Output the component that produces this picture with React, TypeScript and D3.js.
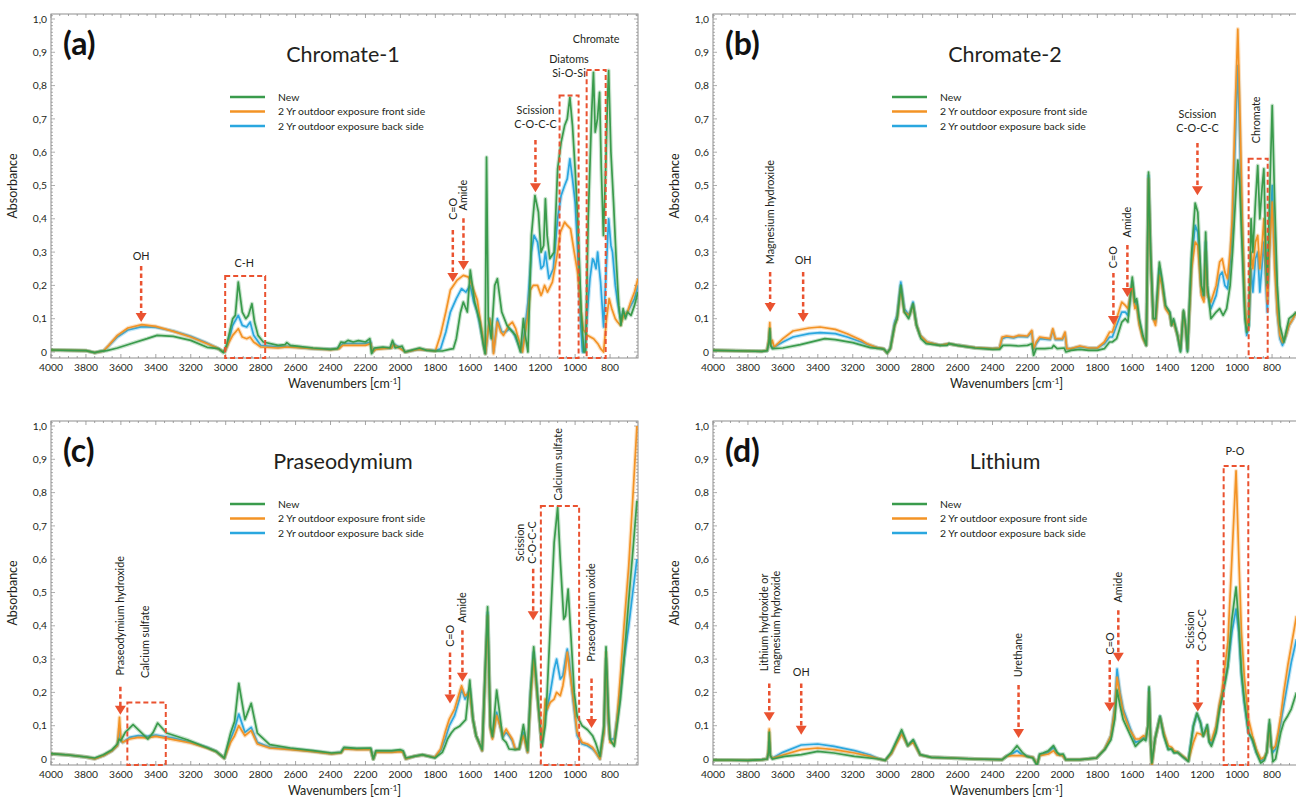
import * as d3 from 'd3'

type Pt = [number, number]

const xTicks = [4000, 3800, 3600, 3400, 3200, 3000, 2800, 2600, 2400, 2200, 2000, 1800, 1600, 1400, 1200, 1000, 800]
const yTicks = [0, 0.1, 0.2, 0.3, 0.4, 0.5, 0.6, 0.7, 0.8, 0.9, 1.0]
const seriesNames = ['New', '2 Yr outdoor exposure front side', '2 Yr outdoor exposure back side']
const seriesColors = ['#3a9b4c', '#f39325', '#2aa7df']

// ---- (a) Chromate-1 ----
const chromate1New: Pt[] = [
  [4000, 0.006], [3900, 0.005], [3800, 0.004], [3750, -0.002], [3720, 0.002], [3680, 0.004], [3620, 0.012], [3530, 0.027],
  [3450, 0.04], [3393, 0.05], [3300, 0.047], [3200, 0.035], [3106, 0.014], [3040, 0.01], [3014, -0.002], [2995, 0.02],
  [2960, 0.1], [2945, 0.11], [2928, 0.21], [2905, 0.12], [2885, 0.1], [2870, 0.11], [2850, 0.145], [2835, 0.09], [2815, 0.05],
  [2785, 0.03], [2700, 0.02], [2660, 0.022], [2650, 0.028], [2630, 0.02], [2500, 0.012], [2400, 0.008], [2360, 0.01],
  [2340, 0.03], [2320, 0.028], [2300, 0.035], [2270, 0.03], [2240, 0.034], [2200, 0.03], [2175, 0.04], [2165, -0.005],
  [2150, 0.012], [2100, 0.015], [2060, 0.012], [2045, 0.035], [2030, 0.012], [1990, 0.018], [1975, 0.0], [1940, 0.005],
  [1890, 0.012], [1850, 0.005], [1800, 0.003], [1760, 0.003], [1720, 0.008], [1697, 0.01], [1680, 0.04], [1657, 0.117],
  [1640, 0.15], [1617, 0.12], [1600, 0.246], [1575, 0.15], [1545, 0.09], [1525, 0.02], [1515, -0.005], [1507, 0.585],
  [1497, 0.1], [1480, 0.04], [1460, 0.2], [1445, 0.22], [1420, 0.12], [1390, 0.08], [1370, 0.067], [1341, 0.05], [1313, 0.0],
  [1296, 0.1], [1285, 0.05], [1270, 0.0], [1250, 0.35], [1230, 0.47], [1210, 0.42], [1195, 0.3], [1180, 0.32], [1170, 0.46],
  [1160, 0.35], [1145, 0.28], [1120, 0.3], [1100, 0.55], [1080, 0.63], [1060, 0.68], [1045, 0.7], [1030, 0.765], [1015, 0.68],
  [1000, 0.55], [985, 0.4], [965, 0.12], [950, 0.0], [940, 0.0], [925, 0.4], [905, 0.72], [895, 0.84], [885, 0.66], [872, 0.7],
  [860, 0.78], [850, 0.55], [838, 0.35], [825, 0.55], [815, 0.75], [808, 0.845], [795, 0.6], [780, 0.45], [765, 0.28],
  [750, 0.14], [738, 0.08], [725, 0.13], [712, 0.1], [700, 0.12], [680, 0.11], [660, 0.14], [640, 0.18],
]
const chromate1Front: Pt[] = [
  [4000, 0.006], [3800, 0.004], [3750, -0.002], [3700, 0.003], [3670, 0.02], [3620, 0.05], [3560, 0.072], [3480, 0.082],
  [3400, 0.077], [3300, 0.062], [3200, 0.045], [3120, 0.028], [3060, 0.015], [3020, 0.003], [3005, 0.0], [2985, 0.025],
  [2960, 0.05], [2928, 0.07], [2905, 0.045], [2880, 0.04], [2860, 0.045], [2840, 0.03], [2800, 0.015], [2700, 0.012],
  [2650, 0.015], [2500, 0.01], [2400, 0.007], [2350, 0.01], [2330, 0.02], [2200, 0.02], [2170, 0.025], [2160, 0.0],
  [2140, 0.008], [2050, 0.012], [2040, 0.022], [2000, 0.01], [1970, 0.0], [1900, 0.008], [1830, 0.005], [1800, 0.003],
  [1771, 0.05], [1740, 0.12], [1714, 0.186], [1675, 0.216], [1640, 0.23], [1610, 0.225], [1590, 0.2], [1560, 0.156],
  [1530, 0.05], [1513, -0.005], [1490, 0.1], [1475, 0.07], [1467, -0.005], [1445, 0.09], [1425, 0.06], [1410, 0.05],
  [1380, 0.08], [1359, 0.09], [1340, 0.07], [1330, 0.05], [1301, 0.0], [1285, 0.06], [1273, 0.1], [1256, 0.186], [1240, 0.2],
  [1215, 0.2], [1195, 0.17], [1187, 0.18], [1175, 0.2], [1158, 0.18], [1130, 0.21], [1100, 0.3], [1084, 0.36], [1060, 0.39],
  [1045, 0.38], [1026, 0.37], [1005, 0.3], [986, 0.24], [965, 0.12], [952, 0.066], [930, 0.05], [894, 0.04], [870, 0.025],
  [854, 0.01], [837, 0.0], [820, 0.1], [805, 0.16], [790, 0.13], [770, 0.1], [757, 0.09], [740, 0.08], [722, 0.11],
  [700, 0.12], [682, 0.15], [660, 0.18], [640, 0.22],
]
const chromate1Back: Pt[] = [
  [4000, 0.006], [3800, 0.004], [3750, -0.002], [3700, 0.003], [3670, 0.018], [3620, 0.045], [3560, 0.066], [3480, 0.076],
  [3400, 0.074], [3300, 0.063], [3200, 0.047], [3120, 0.03], [3060, 0.015], [3020, 0.003], [3005, 0.0], [2985, 0.03],
  [2960, 0.08], [2928, 0.11], [2905, 0.08], [2880, 0.075], [2860, 0.09], [2840, 0.05], [2800, 0.02], [2700, 0.015],
  [2650, 0.017], [2500, 0.01], [2400, 0.008], [2350, 0.012], [2330, 0.025], [2200, 0.025], [2170, 0.03], [2160, 0.0],
  [2140, 0.01], [2050, 0.013], [2040, 0.025], [2000, 0.012], [1970, 0.0], [1900, 0.008], [1800, 0.004], [1770, 0.01],
  [1740, 0.06], [1714, 0.12], [1680, 0.16], [1650, 0.19], [1625, 0.18], [1600, 0.2], [1580, 0.15], [1560, 0.12], [1530, 0.04],
  [1513, -0.005], [1490, 0.1], [1475, 0.06], [1467, 0.0], [1445, 0.1], [1420, 0.06], [1400, 0.06], [1375, 0.07], [1355, 0.06],
  [1330, 0.03], [1305, 0.0], [1285, 0.08], [1270, 0.15], [1250, 0.3], [1235, 0.35], [1215, 0.33], [1195, 0.25], [1180, 0.26],
  [1170, 0.3], [1150, 0.22], [1125, 0.25], [1100, 0.4], [1080, 0.47], [1060, 0.5], [1045, 0.52], [1030, 0.58], [1015, 0.52],
  [1000, 0.45], [985, 0.3], [970, 0.1], [958, 0.0], [945, 0.0], [930, 0.12], [915, 0.22], [900, 0.28], [894, 0.276],
  [880, 0.25], [871, 0.3], [860, 0.24], [854, 0.21], [837, 0.075], [822, 0.25], [808, 0.4], [795, 0.32], [786, 0.3],
  [770, 0.2], [757, 0.15], [740, 0.1], [725, 0.12], [711, 0.11], [690, 0.13], [660, 0.16], [640, 0.2],
]

// ---- (b) Chromate-2 ----
const chromate2New: Pt[] = [
  [4000, 0.005], [3800, 0.003], [3720, 0.002], [3690, 0.004], [3680, 0.03], [3675, 0.07], [3670, 0.02], [3660, 0.01],
  [3600, 0.012], [3500, 0.022], [3400, 0.035], [3360, 0.04], [3300, 0.037], [3200, 0.028], [3100, 0.013], [3040, 0.01],
  [3020, 0.008], [3003, -0.003], [2985, 0.01], [2960, 0.08], [2946, 0.1], [2925, 0.2], [2905, 0.12], [2880, 0.1],
  [2855, 0.145], [2835, 0.08], [2810, 0.04], [2780, 0.025], [2700, 0.02], [2660, 0.02], [2650, 0.025], [2600, 0.02],
  [2500, 0.012], [2400, 0.008], [2360, 0.008], [2340, 0.02], [2300, 0.02], [2250, 0.018], [2200, 0.02], [2175, 0.025],
  [2165, -0.01], [2150, 0.01], [2100, 0.01], [2060, 0.012], [2050, 0.02], [2030, 0.01], [1990, 0.012], [1980, 0.0],
  [1950, 0.005], [1900, 0.008], [1850, 0.005], [1800, 0.005], [1760, 0.01], [1730, 0.03], [1714, 0.03], [1690, 0.04],
  [1660, 0.09], [1640, 0.1], [1625, 0.09], [1600, 0.225], [1585, 0.15], [1575, 0.16], [1560, 0.1], [1540, 0.05],
  [1520, 0.02], [1507, 0.54], [1495, 0.3], [1480, 0.1], [1467, 0.1], [1445, 0.27], [1430, 0.22], [1410, 0.14], [1385, 0.12],
  [1375, 0.08], [1364, 0.1], [1341, 0.05], [1324, 0.0], [1307, 0.126], [1295, 0.08], [1284, 0.0], [1260, 0.3], [1240, 0.447],
  [1225, 0.42], [1205, 0.2], [1190, 0.17], [1180, 0.36], [1170, 0.2], [1150, 0.1], [1120, 0.12], [1100, 0.13], [1080, 0.11],
  [1060, 0.13], [1040, 0.2], [1026, 0.3], [1010, 0.45], [996, 0.576], [985, 0.5], [970, 0.3], [955, 0.1], [945, 0.06],
  [933, 0.08], [920, 0.4], [910, 0.3], [895, 0.45], [882, 0.56], [870, 0.4], [856, 0.5], [847, 0.55], [835, 0.3], [827, 0.2],
  [815, 0.45], [799, 0.74], [785, 0.45], [770, 0.2], [755, 0.08], [732, 0.03], [720, 0.06], [703, 0.1], [680, 0.11], [660, 0.12],
]
const chromate2Front: Pt[] = [
  [4000, 0.005], [3800, 0.003], [3720, 0.002], [3690, 0.005], [3680, 0.04], [3675, 0.088], [3670, 0.02], [3660, 0.035],
  [3650, 0.015], [3600, 0.04], [3542, 0.063], [3450, 0.072], [3387, 0.075], [3300, 0.068], [3232, 0.055], [3150, 0.035],
  [3118, 0.025], [3060, 0.013], [3026, 0.01], [3003, -0.003], [2985, 0.01], [2960, 0.08], [2946, 0.1], [2925, 0.19],
  [2905, 0.12], [2877, 0.11], [2855, 0.14], [2835, 0.08], [2814, 0.05], [2774, 0.03], [2700, 0.02], [2650, 0.025],
  [2600, 0.02], [2500, 0.013], [2400, 0.01], [2360, 0.012], [2345, 0.045], [2320, 0.048], [2280, 0.045], [2250, 0.05],
  [2200, 0.048], [2175, 0.065], [2165, 0.01], [2150, 0.03], [2130, 0.045], [2070, 0.04], [2055, 0.07], [2040, 0.04],
  [2000, 0.04], [1985, 0.06], [1975, 0.01], [1950, 0.01], [1900, 0.018], [1850, 0.012], [1800, 0.012], [1760, 0.03],
  [1730, 0.06], [1714, 0.06], [1690, 0.1], [1660, 0.15], [1640, 0.14], [1625, 0.13], [1600, 0.2], [1585, 0.13], [1575, 0.14],
  [1560, 0.08], [1540, 0.04], [1520, 0.02], [1507, 0.52], [1495, 0.28], [1480, 0.1], [1467, 0.08], [1445, 0.23], [1430, 0.2],
  [1410, 0.13], [1385, 0.11], [1375, 0.08], [1364, 0.09], [1341, 0.05], [1324, 0.01], [1307, 0.12], [1295, 0.07], [1284, 0.01],
  [1260, 0.25], [1240, 0.33], [1225, 0.32], [1205, 0.17], [1190, 0.15], [1180, 0.3], [1170, 0.17], [1150, 0.15], [1120, 0.2],
  [1100, 0.27], [1085, 0.28], [1070, 0.24], [1055, 0.22], [1040, 0.3], [1028, 0.4], [1010, 0.75], [996, 0.97], [985, 0.75],
  [970, 0.4], [955, 0.15], [945, 0.08], [933, 0.1], [920, 0.3], [910, 0.25], [895, 0.33], [882, 0.35], [870, 0.25],
  [856, 0.33], [847, 0.4], [835, 0.25], [827, 0.15], [815, 0.3], [799, 0.45], [785, 0.25], [770, 0.12], [755, 0.05],
  [740, 0.03], [720, 0.05], [703, 0.08], [680, 0.1], [660, 0.12],
]
const chromate2Back: Pt[] = [
  [4000, 0.005], [3800, 0.003], [3720, 0.002], [3690, 0.004], [3680, 0.03], [3675, 0.06], [3670, 0.02], [3660, 0.012],
  [3600, 0.03], [3542, 0.045], [3450, 0.055], [3387, 0.058], [3300, 0.055], [3232, 0.045], [3150, 0.03], [3100, 0.02],
  [3060, 0.013], [3026, 0.01], [3003, -0.003], [2985, 0.012], [2960, 0.09], [2946, 0.11], [2925, 0.21], [2905, 0.13],
  [2877, 0.11], [2855, 0.15], [2835, 0.08], [2814, 0.05], [2774, 0.03], [2700, 0.02], [2650, 0.025], [2600, 0.02],
  [2500, 0.013], [2400, 0.01], [2360, 0.012], [2345, 0.04], [2320, 0.045], [2280, 0.042], [2250, 0.047], [2200, 0.045],
  [2175, 0.06], [2165, 0.008], [2150, 0.025], [2130, 0.04], [2070, 0.037], [2055, 0.065], [2040, 0.037], [2000, 0.037],
  [1985, 0.055], [1975, 0.01], [1950, 0.01], [1900, 0.016], [1850, 0.012], [1800, 0.012], [1760, 0.025], [1730, 0.045],
  [1714, 0.045], [1690, 0.08], [1660, 0.12], [1640, 0.12], [1625, 0.11], [1600, 0.21], [1585, 0.14], [1575, 0.15],
  [1560, 0.09], [1540, 0.045], [1520, 0.02], [1507, 0.53], [1495, 0.29], [1480, 0.1], [1467, 0.09], [1445, 0.25],
  [1430, 0.21], [1410, 0.135], [1385, 0.115], [1375, 0.08], [1364, 0.095], [1341, 0.05], [1324, 0.005], [1307, 0.12],
  [1295, 0.075], [1284, 0.005], [1260, 0.28], [1240, 0.38], [1225, 0.36], [1205, 0.18], [1190, 0.16], [1180, 0.33],
  [1170, 0.18], [1150, 0.13], [1120, 0.17], [1100, 0.23], [1085, 0.24], [1070, 0.2], [1055, 0.19], [1040, 0.27], [1028, 0.36],
  [1010, 0.65], [996, 0.86], [985, 0.65], [970, 0.35], [955, 0.12], [945, 0.05], [933, 0.08], [920, 0.25], [910, 0.18],
  [895, 0.28], [882, 0.3], [870, 0.18], [856, 0.27], [847, 0.33], [835, 0.2], [827, 0.12], [815, 0.3], [799, 0.5], [785, 0.3],
  [770, 0.12], [755, 0.04], [740, 0.02], [720, 0.05], [703, 0.08], [680, 0.1], [660, 0.12],
]

// ---- (c) Praseodymium ----
const praseoNew: Pt[] = [
  [4000, 0.016], [3900, 0.012], [3800, 0.006], [3750, 0.003], [3700, 0.013], [3650, 0.028], [3620, 0.045], [3610, 0.06],
  [3600, 0.055], [3575, 0.08], [3530, 0.103], [3480, 0.078], [3445, 0.06], [3415, 0.08], [3390, 0.108], [3339, 0.078],
  [3220, 0.058], [3102, 0.033], [3055, 0.023], [3008, 0.003], [2972, 0.078], [2949, 0.113], [2925, 0.227], [2890, 0.118],
  [2854, 0.167], [2819, 0.078], [2748, 0.043], [2630, 0.033], [2500, 0.025], [2394, 0.018], [2340, 0.02], [2323, 0.035],
  [2250, 0.032], [2170, 0.033], [2155, 0.0], [2140, 0.025], [2050, 0.025], [2000, 0.028], [1985, 0.025], [1969, 0.003],
  [1922, 0.008], [1874, 0.013], [1803, 0.003], [1760, 0.02], [1744, 0.04], [1730, 0.06], [1709, 0.078], [1690, 0.09],
  [1662, 0.098], [1626, 0.118], [1603, 0.237], [1585, 0.12], [1567, 0.07], [1532, 0.028], [1501, 0.457], [1485, 0.1],
  [1473, 0.068], [1449, 0.207], [1430, 0.13], [1414, 0.06], [1395, 0.05], [1378, 0.03], [1343, 0.028], [1320, 0.03],
  [1296, 0.103], [1272, 0.025], [1255, 0.2], [1237, 0.337], [1213, 0.177], [1190, 0.038], [1171, 0.1], [1160, 0.2],
  [1142, 0.4], [1120, 0.65], [1100, 0.755], [1085, 0.6], [1065, 0.42], [1055, 0.43], [1040, 0.51], [1024, 0.37], [1005, 0.2],
  [988, 0.128], [960, 0.1], [929, 0.088], [900, 0.07], [882, 0.048], [858, 0.008], [835, 0.1], [823, 0.337], [810, 0.15],
  [800, 0.06], [776, 0.038], [760, 0.1], [741, 0.177], [720, 0.3], [693, 0.477], [670, 0.62], [646, 0.776],
]
const praseoFront: Pt[] = [
  [4000, 0.016], [3900, 0.012], [3800, 0.006], [3750, 0.0], [3700, 0.01], [3650, 0.025], [3620, 0.04], [3608, 0.125],
  [3600, 0.06], [3590, 0.05], [3550, 0.06], [3500, 0.065], [3450, 0.063], [3400, 0.068], [3300, 0.058], [3200, 0.048],
  [3102, 0.032], [3055, 0.022], [3008, 0.002], [2972, 0.05], [2949, 0.07], [2925, 0.1], [2890, 0.07], [2854, 0.085],
  [2819, 0.045], [2748, 0.033], [2630, 0.028], [2500, 0.022], [2394, 0.015], [2340, 0.018], [2323, 0.03], [2250, 0.028],
  [2170, 0.028], [2155, 0.0], [2140, 0.02], [2050, 0.02], [2000, 0.022], [1985, 0.02], [1969, 0.0], [1922, 0.008],
  [1874, 0.012], [1803, 0.005], [1770, 0.03], [1744, 0.08], [1720, 0.12], [1690, 0.15], [1662, 0.2], [1650, 0.22],
  [1630, 0.19], [1603, 0.2], [1585, 0.12], [1567, 0.07], [1532, 0.025], [1501, 0.43], [1485, 0.09], [1473, 0.06],
  [1449, 0.13], [1430, 0.1], [1414, 0.07], [1395, 0.09], [1378, 0.075], [1360, 0.06], [1343, 0.03], [1320, 0.03],
  [1296, 0.07], [1272, 0.02], [1255, 0.18], [1237, 0.3], [1213, 0.17], [1190, 0.04], [1171, 0.18], [1160, 0.15],
  [1142, 0.17], [1120, 0.18], [1106, 0.2], [1085, 0.19], [1070, 0.22], [1055, 0.27], [1045, 0.32], [1035, 0.28],
  [1010, 0.18], [988, 0.08], [960, 0.05], [929, 0.045], [900, 0.035], [882, 0.02], [858, 0.0], [835, 0.08], [823, 0.32],
  [810, 0.12], [800, 0.05], [776, 0.045], [760, 0.12], [741, 0.25], [720, 0.4], [693, 0.58], [670, 0.78], [646, 1.0],
]
const praseoBack: Pt[] = [
  [4000, 0.016], [3900, 0.012], [3800, 0.006], [3750, 0.0], [3700, 0.01], [3650, 0.025], [3620, 0.04], [3608, 0.09],
  [3600, 0.055], [3590, 0.05], [3550, 0.065], [3500, 0.07], [3450, 0.068], [3400, 0.072], [3300, 0.063], [3200, 0.05],
  [3102, 0.034], [3055, 0.023], [3008, 0.002], [2972, 0.06], [2949, 0.09], [2925, 0.135], [2890, 0.08], [2854, 0.095],
  [2819, 0.05], [2748, 0.035], [2630, 0.03], [2500, 0.023], [2394, 0.016], [2340, 0.02], [2323, 0.032], [2250, 0.03],
  [2170, 0.03], [2155, 0.0], [2140, 0.022], [2050, 0.022], [2000, 0.024], [1985, 0.022], [1969, 0.0], [1922, 0.008],
  [1874, 0.012], [1803, 0.005], [1770, 0.025], [1744, 0.06], [1720, 0.1], [1690, 0.13], [1662, 0.18], [1650, 0.21],
  [1630, 0.18], [1603, 0.21], [1585, 0.12], [1567, 0.07], [1532, 0.025], [1501, 0.44], [1485, 0.095], [1473, 0.065],
  [1449, 0.14], [1430, 0.1], [1414, 0.065], [1395, 0.08], [1378, 0.07], [1360, 0.055], [1343, 0.03], [1320, 0.03],
  [1296, 0.08], [1272, 0.02], [1255, 0.2], [1237, 0.32], [1213, 0.17], [1190, 0.04], [1171, 0.13], [1160, 0.15],
  [1142, 0.2], [1120, 0.27], [1106, 0.3], [1085, 0.24], [1070, 0.25], [1055, 0.3], [1045, 0.33], [1035, 0.3], [1010, 0.17],
  [988, 0.07], [960, 0.045], [929, 0.04], [900, 0.03], [882, 0.02], [858, 0.0], [835, 0.08], [823, 0.3], [810, 0.11],
  [800, 0.06], [776, 0.06], [760, 0.12], [741, 0.2], [720, 0.3], [693, 0.4], [670, 0.5], [646, 0.6],
]

// ---- (d) Lithium ----
const lithiumNew: Pt[] = [
  [4000, -0.003], [3900, -0.003], [3800, -0.004], [3720, -0.002], [3690, 0.0], [3682, 0.02], [3678, 0.08], [3672, 0.01],
  [3660, 0.0], [3589, 0.008], [3495, 0.013], [3401, 0.023], [3307, 0.018], [3190, 0.008], [3049, 0.0], [3014, -0.004],
  [2980, 0.02], [2955, 0.048], [2920, 0.088], [2885, 0.04], [2854, 0.058], [2814, 0.013], [2750, 0.005], [2638, 0.003],
  [2500, 0.0], [2345, -0.002], [2321, 0.008], [2290, 0.02], [2260, 0.04], [2230, 0.02], [2204, 0.008], [2169, 0.003],
  [2145, -0.02], [2130, 0.015], [2110, 0.018], [2080, 0.025], [2051, 0.04], [2030, 0.02], [2016, 0.013], [1995, 0.015],
  [1981, -0.002], [1899, -0.002], [1805, 0.003], [1758, 0.028], [1722, 0.058], [1700, 0.12], [1687, 0.207], [1670, 0.16],
  [1652, 0.118], [1617, 0.078], [1582, 0.038], [1560, 0.05], [1535, 0.06], [1523, 0.055], [1510, 0.1], [1504, 0.217],
  [1495, 0.05], [1488, -0.012], [1470, 0.06], [1441, 0.128], [1420, 0.07], [1394, 0.028], [1375, 0.03], [1361, 0.018],
  [1340, 0.02], [1314, 0.008], [1279, -0.007], [1250, 0.1], [1230, 0.138], [1210, 0.11], [1194, 0.068], [1171, 0.103],
  [1160, 0.05], [1147, 0.038], [1120, 0.08], [1100, 0.15], [1088, 0.177], [1065, 0.24], [1053, 0.277], [1030, 0.42],
  [1006, 0.516], [990, 0.4], [975, 0.26], [959, 0.177], [935, 0.08], [912, 0.058], [890, 0.02], [865, -0.012], [845, -0.005],
  [830, 0.02], [815, 0.118], [806, 0.05], [795, -0.008], [780, 0.0], [765, 0.04], [750, 0.08], [733, 0.11], [710, 0.13],
  [690, 0.15], [660, 0.2],
]
const lithiumFront: Pt[] = [
  [4000, -0.003], [3800, -0.004], [3720, -0.002], [3690, 0.0], [3682, 0.03], [3678, 0.09], [3672, 0.01], [3660, 0.002],
  [3600, 0.012], [3495, 0.028], [3401, 0.033], [3307, 0.028], [3190, 0.018], [3100, 0.008], [3049, 0.0], [3014, -0.004],
  [2980, 0.015], [2955, 0.04], [2920, 0.075], [2885, 0.04], [2854, 0.05], [2814, 0.012], [2750, 0.005], [2638, 0.003],
  [2500, 0.0], [2345, -0.002], [2321, 0.008], [2290, 0.01], [2230, 0.01], [2169, 0.005], [2145, -0.015], [2130, 0.01],
  [2080, 0.015], [2051, 0.025], [2030, 0.012], [2000, 0.01], [1981, -0.002], [1899, -0.002], [1805, 0.003], [1758, 0.03],
  [1722, 0.07], [1700, 0.15], [1687, 0.245], [1670, 0.19], [1652, 0.14], [1617, 0.09], [1582, 0.06], [1560, 0.06],
  [1535, 0.07], [1523, 0.065], [1510, 0.1], [1504, 0.2], [1495, 0.05], [1488, -0.02], [1470, 0.06], [1441, 0.125],
  [1420, 0.08], [1394, 0.04], [1375, 0.035], [1361, 0.025], [1340, 0.02], [1314, 0.01], [1279, -0.005], [1250, 0.05],
  [1230, 0.078], [1210, 0.075], [1194, 0.07], [1171, 0.09], [1160, 0.06], [1147, 0.055], [1120, 0.1], [1100, 0.17],
  [1088, 0.2], [1065, 0.3], [1053, 0.35], [1030, 0.6], [1006, 0.865], [990, 0.6], [975, 0.38], [959, 0.25], [935, 0.12],
  [912, 0.07], [890, 0.03], [865, 0.0], [845, 0.005], [830, 0.02], [815, 0.1], [806, 0.04], [795, 0.03], [780, 0.04],
  [765, 0.08], [750, 0.13], [733, 0.2], [710, 0.28], [690, 0.34], [660, 0.43],
]
const lithiumBack: Pt[] = [
  [4000, -0.003], [3800, -0.004], [3720, -0.002], [3690, 0.0], [3682, 0.02], [3678, 0.05], [3672, 0.01], [3660, 0.002],
  [3600, 0.02], [3495, 0.042], [3401, 0.045], [3307, 0.038], [3190, 0.025], [3100, 0.012], [3049, 0.0], [3014, -0.004],
  [2980, 0.015], [2955, 0.045], [2920, 0.08], [2885, 0.04], [2854, 0.055], [2814, 0.012], [2750, 0.005], [2638, 0.003],
  [2500, 0.0], [2345, -0.002], [2321, 0.008], [2290, 0.015], [2260, 0.025], [2230, 0.012], [2169, 0.005], [2145, -0.015],
  [2130, 0.012], [2080, 0.02], [2051, 0.035], [2030, 0.015], [2000, 0.012], [1981, -0.002], [1899, -0.002], [1805, 0.003],
  [1758, 0.03], [1722, 0.07], [1700, 0.16], [1687, 0.27], [1670, 0.2], [1652, 0.15], [1617, 0.1], [1582, 0.05],
  [1560, 0.055], [1535, 0.065], [1523, 0.06], [1510, 0.1], [1504, 0.21], [1495, 0.05], [1488, -0.01], [1470, 0.06],
  [1441, 0.128], [1420, 0.075], [1394, 0.03], [1375, 0.03], [1361, 0.02], [1340, 0.02], [1314, 0.008], [1279, -0.006],
  [1250, 0.1], [1230, 0.135], [1210, 0.11], [1194, 0.07], [1171, 0.1], [1160, 0.055], [1147, 0.045], [1120, 0.09],
  [1100, 0.16], [1088, 0.19], [1065, 0.25], [1053, 0.28], [1030, 0.38], [1006, 0.45], [990, 0.38], [975, 0.25],
  [959, 0.17], [935, 0.08], [912, 0.055], [890, 0.02], [865, -0.005], [845, 0.0], [830, 0.02], [815, 0.105], [806, 0.04],
  [795, 0.02], [780, 0.03], [765, 0.07], [750, 0.11], [733, 0.16], [710, 0.23], [690, 0.29], [660, 0.36],
]

type Note =
  | { kind: 'text'; wn: number; v: number; lines: string[]; rotate?: boolean }
  | { kind: 'arrow'; wn: number; from: number; to: number }
  | { kind: 'box'; from: number; to: number; top: number }

const panels = [
  {
    letter: '(a)', title: 'Chromate-1', px: 51, py: 14,
    series: [chromate1New, chromate1Front, chromate1Back],
    notes: [
      { kind: 'text', wn: 3484, v: 0.288, lines: ['OH'] },
      { kind: 'arrow', wn: 3484, from: 0.258, to: 0.09 },
      { kind: 'text', wn: 2894, v: 0.267, lines: ['C-H'] },
      { kind: 'box', from: 3003, to: 2774, top: 0.228 },
      { kind: 'text', wn: 1700, v: 0.43, lines: ['C=O'], rotate: true },
      { kind: 'arrow', wn: 1700, from: 0.366, to: 0.21 },
      { kind: 'text', wn: 1639, v: 0.471, lines: ['Amide'], rotate: true },
      { kind: 'arrow', wn: 1639, from: 0.402, to: 0.246 },
      { kind: 'text', wn: 1227, v: 0.704, lines: ['Scission', 'C-O-C-C'] },
      { kind: 'arrow', wn: 1227, from: 0.637, to: 0.48 },
      { kind: 'text', wn: 1035, v: 0.857, lines: ['Diatoms', 'Si-O-Si'] },
      { kind: 'box', from: 1089, to: 980, top: 0.77 },
      { kind: 'text', wn: 880, v: 0.94, lines: ['Chromate'] },
      { kind: 'box', from: 934, to: 825, top: 0.847 },
    ] as Note[],
  },
  {
    letter: '(b)', title: 'Chromate-2', px: 713, py: 14,
    series: [chromate2New, chromate2Front, chromate2Back],
    notes: [
      { kind: 'text', wn: 3673, v: 0.42, lines: ['Magnesium hydroxide'], rotate: true },
      { kind: 'arrow', wn: 3673, from: 0.24, to: 0.12 },
      { kind: 'text', wn: 3484, v: 0.276, lines: ['OH'] },
      { kind: 'arrow', wn: 3484, from: 0.24, to: 0.09 },
      { kind: 'text', wn: 1708, v: 0.285, lines: ['C=O'], rotate: true },
      { kind: 'arrow', wn: 1708, from: 0.237, to: 0.081 },
      { kind: 'text', wn: 1628, v: 0.39, lines: ['Amide'], rotate: true },
      { kind: 'arrow', wn: 1628, from: 0.321, to: 0.165 },
      { kind: 'text', wn: 1227, v: 0.693, lines: ['Scission', 'C-O-C-C'] },
      { kind: 'arrow', wn: 1227, from: 0.628, to: 0.471 },
      { kind: 'text', wn: 892, v: 0.697, lines: ['Chromate'], rotate: true },
      { kind: 'box', from: 934, to: 825, top: 0.58 },
    ] as Note[],
  },
  {
    letter: '(c)', title: 'Praseodymium', px: 51, py: 421,
    series: [praseoNew, praseoFront, praseoBack],
    notes: [
      { kind: 'text', wn: 3603, v: 0.43, lines: ['Praseodymium  hydroxide'], rotate: true },
      { kind: 'arrow', wn: 3603, from: 0.217, to: 0.133 },
      { kind: 'text', wn: 3461, v: 0.352, lines: ['Calcium sulfate'], rotate: true },
      { kind: 'box', from: 3563, to: 3343, top: 0.17 },
      { kind: 'text', wn: 1716, v: 0.37, lines: ['C=O'], rotate: true },
      { kind: 'arrow', wn: 1716, from: 0.32, to: 0.167 },
      { kind: 'text', wn: 1645, v: 0.455, lines: ['Amide'], rotate: true },
      { kind: 'arrow', wn: 1645, from: 0.387, to: 0.232 },
      { kind: 'text', wn: 1277, v: 0.65, lines: ['Scission', 'C-O-C-C'], rotate: true },
      { kind: 'arrow', wn: 1240, from: 0.571, to: 0.417 },
      { kind: 'text', wn: 1099, v: 0.885, lines: ['Calcium sulfate'], rotate: true },
      { kind: 'box', from: 1196, to: 977, top: 0.76 },
      { kind: 'text', wn: 906, v: 0.44, lines: ['Praseodymium oxide'], rotate: true },
      { kind: 'arrow', wn: 906, from: 0.242, to: 0.093 },
    ] as Note[],
  },
  {
    letter: '(d)', title: 'Lithium', px: 713, py: 421,
    series: [lithiumNew, lithiumFront, lithiumBack],
    notes: [
      { kind: 'text', wn: 3671, v: 0.41, lines: ['Lithium hydroxide or', 'magnesium hydroxide'], rotate: true },
      { kind: 'arrow', wn: 3678, from: 0.227, to: 0.113 },
      { kind: 'text', wn: 3495, v: 0.262, lines: ['OH'] },
      { kind: 'arrow', wn: 3495, from: 0.227, to: 0.073 },
      { kind: 'text', wn: 2251, v: 0.312, lines: ['Urethane'], rotate: true },
      { kind: 'arrow', wn: 2251, from: 0.222, to: 0.063 },
      { kind: 'text', wn: 1729, v: 0.347, lines: ['C=O'], rotate: true },
      { kind: 'arrow', wn: 1729, from: 0.297, to: 0.143 },
      { kind: 'text', wn: 1680, v: 0.516, lines: ['Amide'], rotate: true },
      { kind: 'arrow', wn: 1680, from: 0.447, to: 0.292 },
      { kind: 'text', wn: 1234, v: 0.387, lines: ['Scission', 'C-O-C-C'], rotate: true },
      { kind: 'arrow', wn: 1225, from: 0.297, to: 0.143 },
      { kind: 'text', wn: 1013, v: 0.925, lines: ['P-O'] },
      { kind: 'box', from: 1077, to: 936, top: 0.88 },
    ] as Note[],
  },
]

const W = 587
const H = 344
const FONT = "Lato, 'Open Sans', sans-serif"
const RED = '#ea5230'
const INK = '#231f20'

const fmt = (d: number) => (d === 0 ? '0' : d.toFixed(1).replace('.', ','))

function Panel({ p, idx }: { p: (typeof panels)[number]; idx: number }) {
  const x = d3.scaleLinear().domain([4000, 640]).range([0, W])
  const y = d3.scaleLinear().domain([0, 1]).range([338, 5])
  const line = d3.line<Pt>().x(d => x(d[0])).y(d => y(d[1]))
  const minorX = d3.range(4000, 640, -50)
  const minorY = d3.range(-1, 102).map(i => i / 100)
  const clipId = `clip-${idx}`
  const order = [2, 1, 0]

  return (
    <g transform={`translate(${p.px},${p.py})`}>
      <defs>
        <clipPath id={clipId}>
          <rect x={0} y={0} width={W} height={H} />
        </clipPath>
      </defs>
      {/* frame + inward ticks */}
      <rect x={0} y={0} width={W} height={H} fill="none" stroke="#8d8d8d" strokeWidth={1} />
      {minorX.map(v => {
        const major = v % 200 === 0
        const l = major ? 4 : 2
        return (
          <g key={`mx${v}`} stroke="#8d8d8d" strokeWidth={0.8}>
            <line x1={x(v)} x2={x(v)} y1={H} y2={H - l} />
            <line x1={x(v)} x2={x(v)} y1={0} y2={l} />
          </g>
        )
      })}
      {minorY.map(v => {
        const major = Math.abs(v * 10 - Math.round(v * 10)) < 1e-6
        const l = major ? 4 : 2
        return (
          <g key={`my${v}`} stroke="#8d8d8d" strokeWidth={0.7}>
            <line x1={0} x2={l} y1={y(v)} y2={y(v)} />
            <line x1={W} x2={W - l} y1={y(v)} y2={y(v)} />
          </g>
        )
      })}
      {xTicks.map(v => (
        <text key={`xt${v}`} x={x(v)} y={H + 13} textAnchor="middle" fontSize={10.3} fill={INK} fontFamily={FONT}>
          {v}
        </text>
      ))}
      {yTicks.map(v => (
        <text key={`yt${v}`} x={-4} y={y(v)} dy="0.35em" textAnchor="end" fontSize={10.3} fill={INK} fontFamily={FONT}>
          {fmt(v)}
        </text>
      ))}
      <text x={W / 2} y={H + 30} textAnchor="middle" fontSize={12.5} fill={INK} fontFamily={FONT}>
        Wavenumbers [cm
        <tspan dy={-4} fontSize={8}>-1</tspan>
        <tspan dy={4}>]</tspan>
      </text>
      <text
        transform={`translate(-34,${H / 2}) rotate(-90)`}
        textAnchor="middle"
        fontSize={12.5}
        fill={INK}
        fontFamily={FONT}
      >
        Absorbance
      </text>

      {/* spectra */}
      <g clipPath={`url(#${clipId})`} fill="none" strokeLinejoin="round">
        {order.map(i => (
          <g key={`s${i}`}>
            <path d={line(p.series[i]) ?? ''} stroke={seriesColors[i]} strokeWidth={4} strokeOpacity={0.28} />
            <path d={line(p.series[i]) ?? ''} stroke={seriesColors[i]} strokeWidth={1.7} />
          </g>
        ))}
      </g>

      {/* annotations */}
      {p.notes.map((n, k) => {
        if (n.kind === 'arrow') {
          const cx = x(n.wn)
          const y1 = y(n.from)
          const y2 = y(n.to)
          return (
            <g key={`n${k}`}>
              <line x1={cx} x2={cx} y1={y1} y2={y2 - 8} stroke={RED} strokeWidth={2.5} strokeDasharray="4.5,3" />
              <path d={`M${cx - 5.5},${y2 - 9}L${cx + 5.5},${y2 - 9}L${cx},${y2}Z`} fill={RED} />
            </g>
          )
        }
        if (n.kind === 'box') {
          const x1 = x(n.from)
          const x2 = x(n.to)
          return (
            <rect key={`n${k}`} x={x1} y={y(n.top)} width={x2 - x1} height={H - y(n.top)} fill="none"
              stroke={RED} strokeWidth={2} strokeDasharray="5,3" />
          )
        }
        const lh = n.rotate ? 12 : 14
        const off = (n.lines.length - 1) / 2
        return (
          <text
            key={`n${k}`}
            transform={`translate(${x(n.wn)},${y(n.v)})${n.rotate ? ' rotate(-90)' : ''}`}
            textAnchor="middle"
            fontSize={10.8}
            fill={INK}
            fontFamily={FONT}
          >
            {n.lines.map((t, j) => (
              <tspan key={j} x={0} y={(j - off) * lh} dy="0.35em">{t}</tspan>
            ))}
          </text>
        )
      })}

      {/* legend */}
      {seriesNames.map((name, i) => (
        <g key={`lg${i}`} transform={`translate(179,${83 + i * 14.5})`}>
          <line x1={0} x2={35} y1={0} y2={0} stroke={seriesColors[i]} strokeWidth={2.5} />
          <text x={48} y={0} dy="0.35em" fontSize={10.4} fill={INK} fontFamily={FONT}>{name}</text>
        </g>
      ))}

      <text x={12} y={41} fontSize={32} fontWeight="bold" fill="#111" fontFamily={FONT}>{p.letter}</text>
      <text x={292} y={48} textAnchor="middle" fontSize={21.5} fill={INK} fontFamily={FONT}>{p.title}</text>
    </g>
  )
}

export default function App() {
  return (
    <svg
      width={1296}
      height={798}
      style={{ position: 'absolute', left: 0, top: 0, background: '#fff' }}
    >
      {panels.map((p, i) => (
        <Panel key={p.letter} p={p} idx={i} />
      ))}
    </svg>
  )
}
